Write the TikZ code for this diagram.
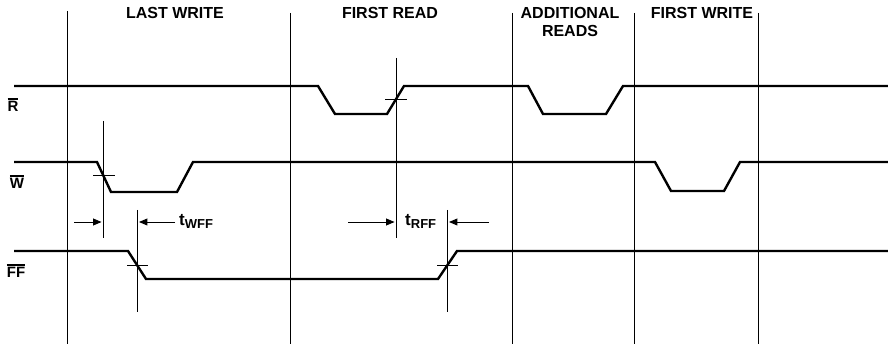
\documentclass[tikz,border=0pt]{standalone}
\usepackage{fontspec}
\setmainfont{Liberation Sans}[BoldFont={Liberation Sans Bold}]
\usepackage{tikz}
\usetikzlibrary{arrows}

\tikzset{
  sig/.style={line width=2.4pt,line join=miter},
  guide/.style={line width=0.9pt},
  thinline/.style={line width=0.9pt},
  hdr/.style={font=\fontsize{16}{18}\selectfont\bfseries,align=center,inner sep=0pt},
  lbl/.style={font=\fontsize{15}{17}\selectfont\bfseries,inner sep=0pt}
}
\newcommand{\sigbar}[1]{\vbox{\hrule height 1.3pt\kern1.8pt\hbox{#1}}}

\begin{document}
\begin{tikzpicture}[line cap=butt,>=triangle 45,x=1pt,y=-1pt]
      \useasboundingbox (0,0) rectangle (888,344);
      % phase boundaries
      \draw[guide] (67,11) -- (67,344);
      \foreach \x in {290,512,634,758}
      \draw[guide] (\x,13) -- (\x,344);
      % headings
      \node[hdr] (lastwrite) at (175,13) {LAST WRITE};
      \node[hdr] (firstread) at (390,13) {FIRST READ};
      \node[hdr,anchor=north] (addreads) at (570,7) {ADDITIONAL\\READS};
      \node[hdr] (firstwrite) at (702,13) {FIRST WRITE};
      % signal names
      \node[lbl] (rname) at (13,105) {\sigbar{R}};
      \node[lbl] (wname) at (17,182) {\sigbar{W}};
      \node[lbl] (ffname) at (16,271) {\sigbar{FF}};
      % waveforms
      \draw[sig] (14,86) -- (318,86) -- (335,114) -- (387,114) -- (404,86)
        -- (528,86) -- (543,114) -- (606,114) -- (623,86) -- (888,86);
      \draw[sig] (14,162) -- (97,162) -- (111,192) -- (177,192) -- (193,162)
        -- (655,162) -- (671,191) -- (724,191) -- (740,162) -- (888,162);
      \draw[sig] (14,251) -- (128,251) -- (146,279) -- (438,279) -- (457,251)
        -- (888,251);
      % reference points
      \coordinate (wx) at (103,175);
      \coordinate (rx) at (396,99);
      \coordinate (ffa) at (137,265);
      \coordinate (ffb) at (447,265);
      \draw[thinline] ([xshift=-10pt]wx) -- ([xshift=12pt]wx);
      \draw[thinline] (103,121) -- (103,238);
      \draw[thinline] ([xshift=-11pt]rx) -- ([xshift=11pt]rx);
      \draw[thinline] (396,58) -- (396,238);
      \draw[thinline] ([xshift=-10pt]ffa) -- ([xshift=11pt]ffa);
      \draw[thinline] (137,210) -- (137,312);
      \draw[thinline] ([xshift=-10pt]ffb) -- ([xshift=11pt]ffb);
      \draw[thinline] (447,210) -- (447,312);
      % timing arrows
      \coordinate (wa) at (103,222);
      \coordinate (wb) at (137,222);
      \coordinate (ra) at (396,222);
      \coordinate (rb) at (447,222);
      \draw[thinline,->] (74,222) -- ([xshift=-1.5pt]wa);
      \draw[thinline,->] (175,222) -- ([xshift=2pt]wb);
      \draw[thinline,->] (348,222) -- ([xshift=-1.5pt]ra);
      \draw[thinline,->] (489,222) -- ([xshift=2pt]rb);
      \node[lbl,anchor=west] (twff) at (179,221) {\fontsize{17}{18}\selectfont t\raisebox{-3pt}{\fontsize{13}{14}\selectfont WFF}};
      \node[lbl,anchor=west] (trff) at (405,221) {\fontsize{17}{18}\selectfont t\raisebox{-3pt}{\fontsize{13}{14}\selectfont RFF}};
    \end{tikzpicture}
\end{document}
